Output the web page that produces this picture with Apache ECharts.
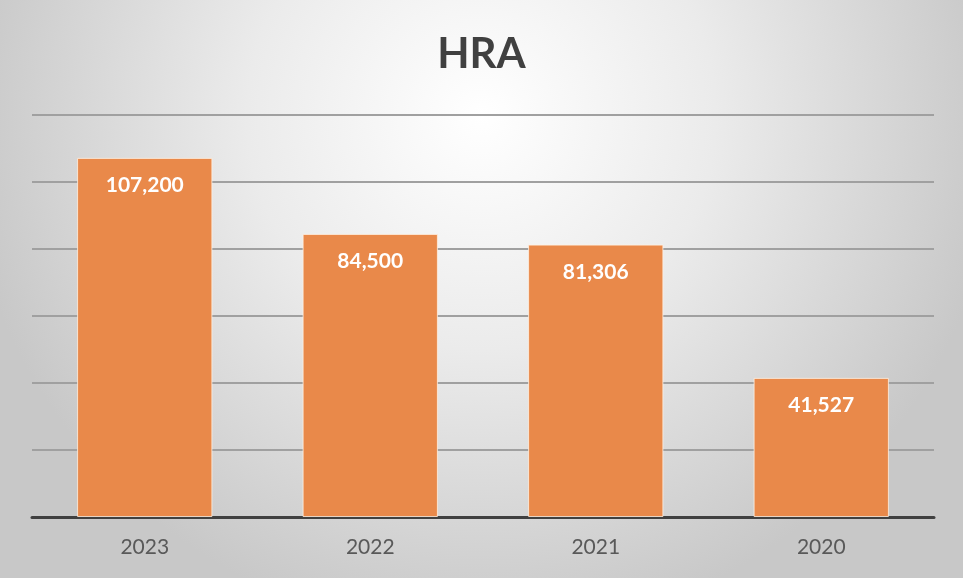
<!DOCTYPE html>
<html>
<head>
<meta charset="utf-8">
<script src="https://cdn.jsdelivr.net/npm/echarts@6/dist/echarts.min.js"></script>
<style>
html,body{margin:0;padding:0;background:#fff;}
#c{width:963px;height:578px;}
</style>
</head>
<body>
<div id="c"></div>
<script>
const categories = ['2023', '2022', '2021', '2020'];
const values = [107200, 84500, 81306, 41527];
const titleText = 'HRA';

const chart = echarts.init(document.getElementById('c'), null, {renderer: 'canvas'});
chart.setOption({
  animation: false,
  backgroundColor: {
    type: 'radial', x: 0.5, y: 0.2, r: 0.9,
    colorStops: [
      {offset: 0, color: '#ffffff'},
      {offset: 0.45, color: '#ebebeb'},
      {offset: 1, color: '#c8c8c8'}
    ]
  },
  title: {
    text: titleText,
    left: 'center',
    top: 28,
    textStyle: {fontFamily: 'Lato', fontWeight: 'bold', fontSize: 42, color: '#404040'}
  },
  grid: {left: 32, right: 29, top: 115, bottom: 61, containLabel: false},
  xAxis: {
    type: 'category',
    data: categories,
    axisLine: {lineStyle: {color: '#404040', width: 3}},
    axisTick: {show: false},
    axisLabel: {fontFamily: 'Lato', fontSize: 21, color: '#595959', margin: 20}
  },
  yAxis: {
    type: 'value',
    min: 0, max: 120000, interval: 20000,
    axisLabel: {show: false},
    axisLine: {show: false},
    axisTick: {show: false},
    splitLine: {lineStyle: {color: '#a0a0a0', width: 2}}
  },
  series: [{
    type: 'bar',
    data: values,
    barWidth: '60%',
    itemStyle: {color: '#E9894A', borderColor: 'rgba(255,240,225,0.8)', borderWidth: 1},
    label: {
      show: true,
      position: 'insideTop',
      distance: 17,
      fontFamily: 'Lato',
      fontWeight: 'bold',
      fontSize: 21,
      color: '#ffffff',
      formatter: p => p.value.toLocaleString('en-US')
    }
  }]
});
</script>
</body>
</html>
